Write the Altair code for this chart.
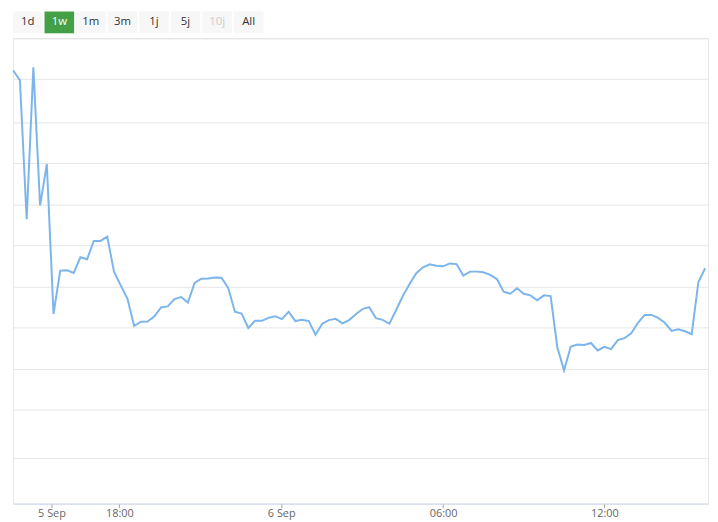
import altair as alt
import pandas as pd

# range selector buttons
button_labels = ["1d", "1w", "1m", "3m", "1j", "5j", "10j", "All"]
button_states = ["normal", "selected", "normal", "normal", "normal", "normal", "disabled", "normal"]

# series, one value per 15 minute step (ordinal x, as in the stock chart)
values = [
    443, 433, 291, 446.3, 305, 347.3, 194, 238.3, 238.7, 236,
    252, 250, 268.7, 268.7, 273, 237.3, 223.3, 209.7, 181.7, 186,
    186.3, 191.3, 200.7, 201.7, 209.3, 211.3, 205.7, 225.7, 230, 230.3,
    231.3, 231, 220.7, 196.3, 194.5, 179.7, 187, 187, 190, 191.7,
    188.7, 196.3, 186.7, 188, 186.7, 172.7, 184, 187.7, 189, 184.3,
    187.7, 193.7, 199, 201, 189.7, 188, 184, 198, 212.3, 224.7,
    235.7, 241.7, 244.7, 243.3, 242.7, 245.7, 245, 233.3, 237.3, 237.3,
    236.7, 234, 229.7, 216.7, 214.7, 220.3, 214.7, 213, 208, 213,
    212.3, 159.7, 136.3, 160.7, 162.7, 162.3, 164.3, 156.7, 160.3, 158,
    167.3, 169.3, 174.3, 185, 193, 193, 190, 185, 176.7, 178.3,
    176.3, 173.3, 226.7, 240.7,
]

# x axis ticks (ordinal positions) and their labels
tick_positions = [5.7, 15.8, 39.9, 64.0, 88.0]
tick_labels = ["5 Sep", "18:00", "6 Sep", "06:00", "12:00"]

# horizontal grid lines (no y labels shown)
grid_levels = [47, 96, 138, 180, 222, 264, 306, 348, 390, 434, 476]

FONT = "Open Sans"

buttons_df = pd.DataFrame({"label": button_labels, "state": button_states})
state_domain = ["normal", "selected", "disabled"]

bx = alt.X(
    "label:N",
    sort=button_labels,
    scale=alt.Scale(paddingInner=0.06, paddingOuter=0),
    axis=None,
)

button_bg = (
    alt.Chart(buttons_df)
    .mark_rect()
    .encode(
        x=bx,
        color=alt.Color(
            "state:N",
            scale=alt.Scale(domain=state_domain, range=["#f7f7f7", "#43a047", "#f7f7f7"]),
            legend=None,
        ),
    )
)

button_text = (
    alt.Chart(buttons_df)
    .mark_text(font=FONT, fontSize=11.5)
    .encode(
        x=bx,
        text="label:N",
        color=alt.Color(
            "state:N",
            scale=alt.Scale(domain=state_domain, range=["#333333", "#ffffff", "#cccccc"]),
            legend=None,
        ),
    )
)

buttons = (
    alt.layer(button_bg, button_text)
    .resolve_scale(color="independent")
    .properties(width=253, height=22, view=alt.ViewBackground(stroke="transparent"))
)

labels_js = "[" + ",".join(f"'{t}'" for t in tick_labels) + "]"
pos_js = "[" + ",".join(str(p) for p in tick_positions) + "]"

series_df = pd.DataFrame({"step": range(len(values)), "value": values})

line = (
    alt.Chart(series_df)
    .mark_line(color="#7cb5ec", strokeWidth=2)
    .encode(
        x=alt.X(
            "step:Q",
            scale=alt.Scale(domain=[-0.04, 103.43], nice=False, zero=False),
            axis=alt.Axis(
                values=tick_positions,
                labelExpr=f"{labels_js}[indexof({pos_js}, datum.value)]",
                grid=False,
                title=None,
                domainColor="#ccd6eb",
                tickColor="#a0a0a0",
                tickSize=4,
                labelPadding=0,
                labelColor="#666666",
                labelFontSize=11,
                labelFont=FONT,
                labelFlush=False,
            ),
        ),
        y=alt.Y(
            "value:Q",
            scale=alt.Scale(domain=[0, 476], nice=False, zero=False),
            axis=alt.Axis(
                values=grid_levels,
                labels=False,
                ticks=False,
                domain=False,
                title=None,
                gridColor="#e6e6e6",
            ),
        ),
    )
    .properties(width=702, height=470, view=alt.ViewBackground(stroke="#e6e6e6"))
)

chart = alt.vconcat(buttons, line, spacing=3).properties(padding=0)

chart.save("out.html", embed_options={"renderer": "svg", "actions": False})
